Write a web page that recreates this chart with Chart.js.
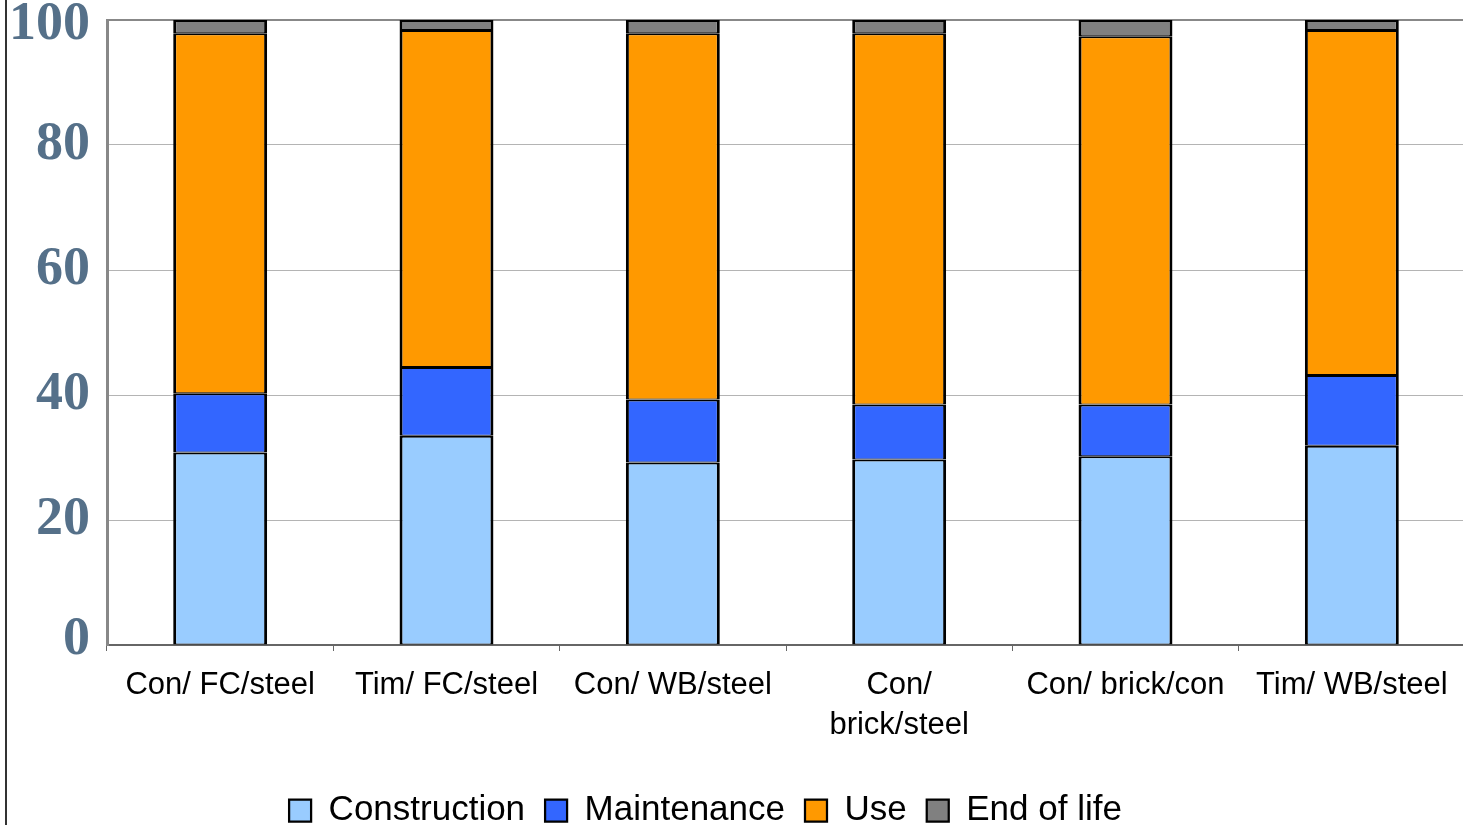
<!DOCTYPE html>
<html>
<head>
<meta charset="utf-8">
<script src="https://cdn.jsdelivr.net/npm/chart.js@4/dist/chart.umd.min.js"></script>
<style>
  html, body { margin: 0; padding: 0; background: #fff; overflow: hidden; }
  #wrap { position: relative; width: 1465px; height: 838px; }
  #frame { position: absolute; left: 5px; top: 0; width: 2px; height: 825px; background: #333; }
</style>
</head>
<body>
<div id="wrap">
  <canvas id="c" width="1465" height="838"></canvas>
  <div id="frame"></div>
</div>
<script>
const categories = ["Con/ FC/steel", "Tim/ FC/steel", "Con/ WB/steel", ["Con/", "brick/steel"], "Con/ brick/con", "Tim/ WB/steel"];
const construction = [30.8, 33.5, 29.2, 29.7, 30.2, 31.9];
const maintenance  = [9.5, 11.0, 10.1, 8.8, 8.3, 11.3];
const use          = [57.6, 53.9, 58.6, 59.4, 58.9, 55.2];
const endOfLife    = [2.1, 1.6, 2.1, 2.1, 2.6, 1.6];
const yTicks = [0, 20, 40, 60, 80, 100];

const mk = (label, data, color) => ({
  label, data, backgroundColor: color, borderColor: '#000',
  borderWidth: { top: 2, bottom: 1, left: 3, right: 3 },
  borderSkipped: false, barPercentage: 0.415, categoryPercentage: 1
});

const shiftLegend = {
  id: 'shiftLegend',
  afterLayout(chart) {
    const l = chart.legend; if (!l) return;
    l.left -= 27; l.right -= 27;
  }
};

new Chart(document.getElementById('c'), {
  type: 'bar',
  data: {
    labels: categories,
    datasets: [
      mk('Construction', construction, '#99CCFF'),
      mk('Maintenance', maintenance, '#3366FF'),
      mk('Use', use, '#FF9900'),
      mk('End of life', endOfLife, '#808080')
    ]
  },
  options: {
    responsive: false,
    animation: false,
    layout: { padding: { top: 20, left: 0, right: 0, bottom: 0 } },
    plugins: {
      tooltip: { enabled: false },
      legend: {
        position: 'bottom',
        labels: {
          font: { family: 'Liberation Sans, Arial, sans-serif', size: 35 },
          color: '#000',
          boxWidth: 22, boxHeight: 22, padding: 20
        }
      }
    },
    scales: {
      x: {
        stacked: true,
        grid: { display: true, drawOnChartArea: false, drawTicks: true, tickLength: 6, color: '#666', offset: true },
        border: { display: true, color: '#666', width: 2 },
        ticks: {
          font: { family: 'Liberation Sans, Arial, sans-serif', size: 31, lineHeight: 1.3 },
          color: '#000', padding: 14, maxRotation: 0, autoSkip: false
        },
        afterFit(scale) { scale.height = 128; scale.paddingLeft = 0; scale.paddingRight = 0; }
      },
      y: {
        stacked: true, min: 0, max: 100,
        afterBuildTicks(scale) { scale.ticks = yTicks.map(v => ({ value: v })); },
        grid: {
          drawTicks: false,
          color: ctx => ctx.tick && ctx.tick.value === 100 ? '#888' : '#b4b4b4',
          lineWidth: ctx => ctx.tick && ctx.tick.value === 100 ? 2 : 1
        },
        border: { display: true, color: '#888', width: 3 },
        ticks: {
          font: { family: 'Liberation Serif, Times New Roman, serif', size: 54, weight: 'bold', lineHeight: 0.2 },
          color: '#557089', padding: 17,
          callback: v => v === 100 ? ['', String(v)] : (v === 0 ? [String(v), ''] : String(v))
        },
        afterFit(scale) { scale.width = 107; scale.paddingTop = 0; scale.paddingBottom = 0; }
      }
    }
  },
  plugins: [shiftLegend]
});
</script>
</body>
</html>
